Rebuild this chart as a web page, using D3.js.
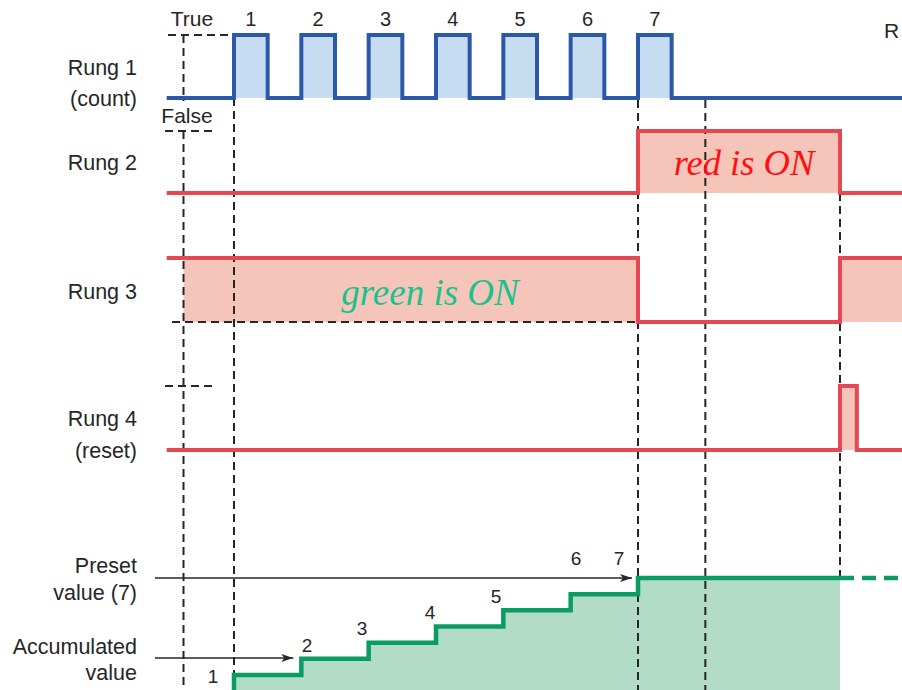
<!DOCTYPE html>
<html><head><meta charset="utf-8">
<script src="https://cdn.jsdelivr.net/npm/d3@7"></script>
<style>
html,body{margin:0;padding:0;background:#fff;}
svg{display:block;}
</style></head>
<body>
<svg id="chart" width="902" height="690"></svg>
<script>
// ---------------- data ----------------
const pulseStarts = [1, 2, 3, 4, 5, 6, 7];          // rung 1 count pulses (time units)
const pulseWidth = 0.5;
const pulseLabels = ["1", "2", "3", "4", "5", "6", "7"];
const rung2Steps = [[0, 0], [7, 1], [10, 0], [11, 0]];   // red ON
const rung3Steps = [[0, 1], [7, 0], [10, 1], [11, 1]];   // green ON
const rung4Steps = [[0, 0], [10, 1], [10.25, 0], [11, 0]]; // reset pulse
const accTimes = [1, 2, 3, 4, 5, 6, 7];
const accValues = [1, 2, 3, 4, 5, 6, 7];
const accLabels = ["1", "2", "3", "4", "5", "6", "7"];
const presetValue = 7;
const guideTimes = [0.25, 1, 7, 8, 10];
const rowLabels = [["Rung 1", "(count)"], ["Rung 2"], ["Rung 3"], ["Rung 4", "(reset)"]];

// ---------------- scales ----------------
const svg = d3.select("#chart");
const x = d3.scaleLinear().domain([1, 7]).range([234, 638]);
const tEnd = x.invert(905);
const rows = [
  {hi: 35, lo: 98},
  {hi: 131, lo: 193},
  {hi: 258, lo: 322},
  {hi: 386, lo: 450}
];
const yAcc = d3.scaleLinear().domain([1, 7]).range([675, 578]);
const bottom = 690;

const BLUE = "#2b58a8", BLUE_F = "#c6ddf1";
const RED = "#e64853", RED_F = "#f6c5b9";
const GREEN = "#0a9d63", GREEN_F = "#b3dcc8";
const INK = "#262626";
const DASH = "8,5";

function lvl(r) { return d3.scaleLinear().domain([0, 1]).range([rows[r].lo, rows[r].hi]); }

// rung 1 data built from pulses
const rung1Steps = [[0, 0]];
pulseStarts.forEach(s => { rung1Steps.push([s, 1]); rung1Steps.push([s + pulseWidth, 0]); });
rung1Steps.push([tEnd, 0]);

function clampEnd(steps) { return steps.map(d => [Math.min(d[0], tEnd), d[1]]); }

// ---------------- fills ----------------
function drawRung(r, steps, color, fill, fillFrom) {
  const y = lvl(r);
  const data = clampEnd(steps);
  let fdata = data;
  if (fillFrom !== undefined) {
    const v0 = data.filter(d => d[0] <= fillFrom).slice(-1)[0][1];
    fdata = [[fillFrom, v0]].concat(data.filter(d => d[0] > fillFrom));
  }
  const area = d3.area().curve(d3.curveStepAfter)
    .x(d => x(d[0])).y0(rows[r].lo).y1(d => y(d[1]));
  svg.append("path").datum(fdata).attr("d", area).attr("fill", fill);
  return () => {
    const line = d3.line().curve(d3.curveStepAfter).x(d => x(d[0])).y(d => y(d[1]));
    svg.append("path").datum(data).attr("d", line).attr("fill", "none")
      .attr("stroke", color).attr("stroke-width", 4).attr("stroke-linejoin", "miter");
  };
}

const l1 = drawRung(0, rung1Steps, BLUE, BLUE_F);
const l2 = drawRung(1, rung2Steps, RED, RED_F);
const l3 = drawRung(2, rung3Steps, RED, RED_F, guideTimes[0]);
const l4 = drawRung(3, rung4Steps, RED, RED_F);

// accumulated area
const accData = accTimes.map((t, i) => [t, accValues[i]]);
const accEnd = guideTimes[4];
const accFill = accData.concat([[accEnd, accValues[accValues.length - 1]]]);
svg.append("path").datum(accFill)
  .attr("d", d3.area().curve(d3.curveStepAfter).x(d => x(d[0])).y0(bottom).y1(d => yAcc(d[1])))
  .attr("fill", GREEN_F);

// guides drawn over fills
const svgG = svg.append("g");
const dl = (x1, y1, x2, y2) => svgG.append("line")
  .attr("x1", x1).attr("y1", y1).attr("x2", x2).attr("y2", y2)
  .attr("stroke", INK).attr("stroke-width", 2).attr("stroke-dasharray", DASH);
// verticals
dl(x(guideTimes[0]), rows[0].hi, x(guideTimes[0]), 101);
dl(x(guideTimes[0]), 131, x(guideTimes[0]), bottom);
dl(x(guideTimes[1]), rows[0].lo, x(guideTimes[1]), bottom);
dl(x(guideTimes[2]), rows[0].lo + 2, x(guideTimes[2]), bottom);
dl(x(guideTimes[3]), rows[0].lo + 2, x(guideTimes[3]), bottom);
dl(x(guideTimes[4]), rows[1].lo, x(guideTimes[4]), yAcc(presetValue));
// horizontals
dl(168, rows[0].hi, x(1), rows[0].hi);
dl(165, rows[1].hi, 212, rows[1].hi);
dl(172, rows[2].lo, x(7), rows[2].lo);
dl(165, rows[3].hi, 213, rows[3].hi);

// lines on top
l1(); l2(); l3(); l4();

// accumulated step line
const accLine = [[accTimes[0], 0]].concat(accData).concat([[accEnd, accValues[accValues.length - 1]]]);
svg.append("path").datum(accLine)
  .attr("d", d3.line().curve(d3.curveStepAfter).x(d => x(d[0])).y(d => d[1] === 0 ? bottom : yAcc(d[1])))
  .attr("fill", "none").attr("stroke", GREEN).attr("stroke-width", 4.5);
svg.append("line")
  .attr("x1", x(accEnd)).attr("x2", 902).attr("y1", yAcc(presetValue)).attr("y2", yAcc(presetValue))
  .attr("stroke", GREEN).attr("stroke-width", 4.5).attr("stroke-dasharray", "14,8");

// arrows
const defs = svg.append("defs");
defs.append("marker").attr("id", "arr").attr("viewBox", "0 0 12 8")
  .attr("refX", 12).attr("refY", 4).attr("markerWidth", 12).attr("markerHeight", 8)
  .attr("markerUnits", "userSpaceOnUse").attr("orient", "auto")
  .append("path").attr("d", "M0,0 L12,4 L0,8 L3,4 Z").attr("fill", INK);
svg.append("line").attr("x1", 155).attr("x2", x(7) - 6)
  .attr("y1", yAcc(presetValue)).attr("y2", yAcc(presetValue))
  .attr("stroke", INK).attr("stroke-width", 1.3).attr("marker-end", "url(#arr)");
svg.append("line").attr("x1", 155).attr("x2", x(2) - 8)
  .attr("y1", 658).attr("y2", 658)
  .attr("stroke", INK).attr("stroke-width", 1.3).attr("marker-end", "url(#arr)");

// ---------------- text ----------------
const sans = "'Liberation Sans', Arial, Helvetica, sans-serif";
const txt = (s, tx, ty, anchor, size, fill, fam, style) => svg.append("text")
  .attr("x", tx).attr("y", ty).attr("text-anchor", anchor || "middle")
  .attr("font-family", fam || sans).attr("font-size", size || 19)
  .attr("font-style", style || "normal").attr("fill", fill || INK).text(s);

// row labels
const rowLabelY = [[75, 106], [170], [299], [426, 458]];
rowLabels.forEach((ls, i) => ls.forEach((s, j) => txt(s, 137, rowLabelY[i][j], "end", 21.5)));
txt("Preset", 137, 573, "end", 21.5);
txt("value (7)", 137, 600, "end", 21.5);
txt("Accumulated", 137, 654, "end", 21.5);
txt("value", 137, 680, "end", 21.5);

txt("True", 192, 26, "middle", 21);
txt("False", 187, 123, "middle", 21);
pulseStarts.forEach((s, i) => txt(pulseLabels[i], x(s + pulseWidth / 2), 26, "middle", 20));
txt("R", 884, 38, "start", 21);

// accumulated step labels
const accLabelPos = [[213, 683], [307, 652], [362, 635], [430, 619], [496, 603], [576, 565], [619, 565]];
accLabels.forEach((s, i) => txt(s, accLabelPos[i][0], accLabelPos[i][1], "middle", 19));

// annotations
const serif = "'Liberation Serif', 'Times New Roman', serif";
txt("red is ON", 744, 175, "middle", 36.5, "#ff1010", serif, "italic");
txt("green is ON", 430, 305, "middle", 37, "#19c28e", serif, "italic");
</script>
</body></html>
